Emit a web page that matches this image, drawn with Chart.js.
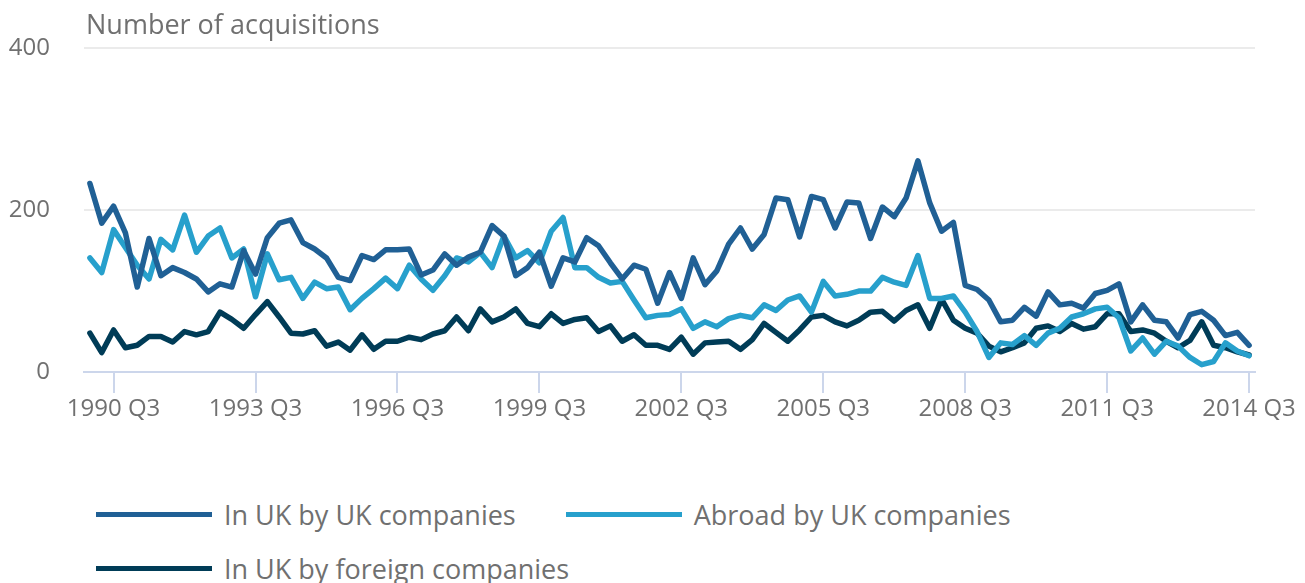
<!DOCTYPE html>
<html>
<head>
<meta charset="utf-8">
<title>Number of acquisitions</title>
<script src="https://cdn.jsdelivr.net/npm/chart.js@4.4.0/dist/chart.umd.min.js"></script>
<style>
    body { margin: 0; background: #ffffff; font-family: 'Open Sans', sans-serif; }
    #wrap { position: relative; width: 1305px; height: 583px; overflow: hidden; }
    #box { position: absolute; left: 0; top: 0; width: 1305px; height: 471px; }
    #legend { position: absolute; left: 96px; top: 487px; width: 1200px; display: flex; flex-wrap: wrap; }
    .item { display: flex; align-items: center; height: 54px; margin-right: 50px; font-size: 27px; color: #707070; white-space: nowrap; }
    .swatch { width: 116px; height: 5px; margin-right: 12px; }
</style>
</head>
<body>
<div id="wrap">
    <div id="box"><canvas id="grafico"></canvas></div>
    <div id="legend"></div>
</div>
<script>
// quarters 1990 Q1 .. 2014 Q3
const startYear = 1990;
const endYear = 2014;
const endQuarter = 3;
const tickLabels = ['1990 Q3', '1993 Q3', '1996 Q3', '1999 Q3', '2002 Q3', '2005 Q3', '2008 Q3', '2011 Q3', '2014 Q3'];
const yTicks = [0, 200, 400];

const ukByUk = [
    233, 184, 205, 172, 105, 165, 119, 129, 123, 115, 99, 109, 105, 150, 121, 166,
    184, 188, 160, 152, 141, 117, 113, 144, 139, 151, 151, 152, 120, 126, 146, 132,
    142, 148, 181, 168, 119, 129, 148, 106, 141, 136, 166, 156, 135, 115, 132, 127,
    85, 123, 91, 141, 108, 125, 158, 178, 152, 170, 215, 213, 167, 217, 213, 178,
    210, 209, 165, 204, 192, 215, 261, 209, 174, 185, 107, 102, 89, 62, 64, 80,
    69, 99, 83, 85, 79, 97, 101, 109, 62, 83, 64, 62, 42, 71, 75, 64,
    45, 49, 33
];
const abroadByUk = [
    141, 123, 176, 154, 132, 115, 164, 151, 194, 148, 168, 178, 141, 152, 93, 146,
    114, 117, 91, 111, 103, 105, 77, 91, 103, 116, 103, 132, 115, 101, 119, 141,
    136, 148, 129, 168, 141, 150, 135, 174, 191, 129, 129, 117, 110, 112, 89, 67,
    70, 71, 78, 54, 62, 56, 66, 70, 67, 83, 76, 89, 94, 74, 112, 94,
    96, 100, 100, 117, 111, 107, 144, 91, 91, 94, 74, 50, 18, 36, 34, 45,
    33, 48, 54, 68, 72, 78, 80, 67, 26, 42, 22, 38, 32, 18, 9, 13,
    36, 26, 20
];
const ukByForeign = [
    48, 24, 52, 30, 33, 44, 44, 37, 50, 46, 50, 74, 65, 54, 71, 87,
    68, 48, 47, 51, 32, 37, 27, 46, 28, 38, 38, 43, 40, 47, 51, 68,
    51, 78, 62, 68, 78, 60, 56, 72, 60, 65, 67, 50, 57, 38, 46, 33,
    33, 28, 43, 22, 36, 37, 38, 28, 40, 60, 49, 38, 52, 68, 70, 62,
    57, 64, 74, 75, 63, 76, 83, 54, 90, 64, 54, 48, 32, 25, 30, 36,
    54, 57, 50, 60, 53, 56, 72, 72, 50, 52, 48, 38, 30, 39, 62, 33,
    30, 25, 21
];

const etiquetas = [];
for (let y = startYear; y <= endYear; y++) {
    for (let q = 1; q <= 4; q++) {
        if (y === endYear && q > endQuarter) break;
        etiquetas.push(y + ' Q' + q);
    }
}

const colorTexto = '#707070';

// axis title drawn above the plot, aligned with the chart area
const tituloEje = {
    id: 'tituloEje',
    afterDraw(chart) {
        const ctx = chart.ctx;
        ctx.save();
        ctx.font = '27px "Open Sans"';
        ctx.fillStyle = colorTexto;
        ctx.textBaseline = 'alphabetic';
        ctx.textAlign = 'left';
        ctx.fillText('Number of acquisitions', 86, 34);
        ctx.restore();
    }
};

const grafico = new Chart(document.getElementById('grafico'), {
    type: 'line',
    data: {
        labels: etiquetas,
        datasets: [
            { label: 'In UK by UK companies', data: ukByUk, borderColor: '#206095', backgroundColor: '#206095' },
            { label: 'Abroad by UK companies', data: abroadByUk, borderColor: '#27a0cc', backgroundColor: '#27a0cc' },
            { label: 'In UK by foreign companies', data: ukByForeign, borderColor: '#003c57', backgroundColor: '#003c57' }
        ]
    },
    options: {
        responsive: true,
        maintainAspectRatio: false,
        animation: false,
        devicePixelRatio: 1,
        layout: { padding: { top: 37, right: 50, left: 0, bottom: 0 } },
        elements: {
            point: { radius: 0 },
            line: { borderWidth: 5.5, tension: 0, borderCapStyle: 'round', borderJoinStyle: 'round' }
        },
        plugins: {
            legend: { display: false },
            tooltip: { enabled: false }
        },
        scales: {
            x: {
                offset: true,
                afterFit: scale => { scale.height = 99; },
                grid: {
                    offset: false,
                    drawOnChartArea: false,
                    drawTicks: true,
                    tickLength: 21,
                    lineWidth: 2,
                    color: c => tickLabels.includes(etiquetas[c.index]) ? '#ccd6eb' : 'rgba(0,0,0,0)'
                },
                border: { display: true, color: '#ccd6eb', width: 2 },
                ticks: {
                    autoSkip: false,
                    maxRotation: 0,
                    padding: 2,
                    color: colorTexto,
                    font: { family: 'Open Sans', size: 24 },
                    callback: function(value, index) {
                        const l = etiquetas[index];
                        return tickLabels.includes(l) ? l : '';
                    }
                }
            },
            y: {
                min: 0,
                max: 400,
                afterFit: scale => { scale.width = 84; },
                afterBuildTicks: scale => { scale.ticks = yTicks.map(v => ({ value: v })); },
                grid: {
                    drawTicks: false,
                    lineWidth: 2,
                    color: c => c.tick && c.tick.value === 0 ? 'rgba(0,0,0,0)' : '#ebebeb'
                },
                border: { display: false },
                ticks: {
                    padding: 34,
                    color: colorTexto,
                    font: { family: 'Open Sans', size: 24 }
                }
            }
        }
    },
    plugins: [tituloEje]
});

// html legend built from the datasets
const leyenda = document.getElementById('legend');
grafico.data.datasets.forEach(ds => {
    const item = document.createElement('div');
    item.className = 'item';
    const sw = document.createElement('span');
    sw.className = 'swatch';
    sw.style.background = ds.borderColor;
    const txt = document.createElement('span');
    txt.textContent = ds.label;
    item.appendChild(sw);
    item.appendChild(txt);
    leyenda.appendChild(item);
});
</script>
</body>
</html>
